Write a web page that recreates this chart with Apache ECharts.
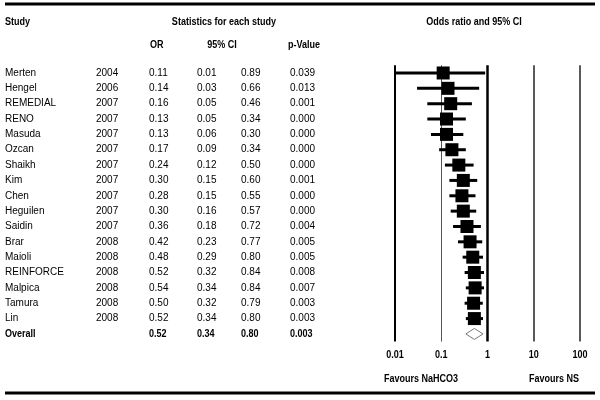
<!DOCTYPE html>
<html><head><meta charset="utf-8">
<script src="https://cdn.jsdelivr.net/npm/echarts@6/dist/echarts.min.js"></script>
<style>html,body{margin:0;padding:0;background:#fff}#c{width:600px;height:400px}</style>
</head><body><div id="c"></div>
<script>
const studies = ['Merten','Hengel','REMEDIAL','RENO','Masuda','Ozcan','Shaikh','Kim','Chen','Heguilen','Saidin','Brar','Maioli','REINFORCE','Malpica','Tamura','Lin'];
const years   = ['2004','2006','2007','2007','2007','2007','2007','2007','2007','2007','2007','2008','2008','2008','2008','2008','2008'];
const oddsRatio = [0.11,0.14,0.16,0.13,0.13,0.17,0.24,0.30,0.28,0.30,0.36,0.42,0.48,0.52,0.54,0.50,0.52];
const lowerCI   = [0.01,0.03,0.05,0.05,0.06,0.09,0.12,0.15,0.15,0.16,0.18,0.23,0.29,0.32,0.34,0.32,0.34];
const upperCI   = [0.89,0.66,0.46,0.34,0.30,0.34,0.50,0.60,0.55,0.57,0.72,0.77,0.80,0.84,0.84,0.79,0.80];
const pValues   = ['0.039','0.013','0.001','0.000','0.000','0.000','0.000','0.001','0.000','0.000','0.004','0.005','0.005','0.008','0.007','0.003','0.003'];
const overallLabel = 'Overall';
const overallOR = 0.52, overallLo = 0.34, overallHi = 0.80, overallP = '0.003';
const refLines = [0.01, 0.1, 1, 10, 100];
const tickLabels = ['0.01','0.1','1','10','100'];

const BODY = "10px 'Liberation Sans', Arial, sans-serif";
const HEAD = "bold 11px 'Liberation Sans', Arial, sans-serif";
const NARROW = 0.82;

const chart = echarts.init(document.getElementById('c'), null, {renderer:'canvas'});
const nRows = studies.length + 1;
const studyData = studies.map((s,i)=>[i, oddsRatio[i], lowerCI[i], upperCI[i]]);
const lineWidths = [2, 1, 2.5, 1.5, 1.5];
const lineColors = ['#000', '#555', '#000', '#222', '#222'];

chart.setOption({
  animation:false,
  grid:{left:395, width:185, top:65.3, height:276.3},
  xAxis:{type:'log', logBase:10, min:0.01, max:100,
    axisLine:{show:false}, axisTick:{show:false}, splitLine:{show:false},
    axisLabel:{show:false}},
  yAxis:{type:'value', min:-0.5, max:nRows-0.5, inverse:true, show:false},
  series:[
    {type:'line', z:1, data:[], silent:true,
      markLine:{silent:true, symbol:'none', label:{show:false},
        data: refLines.map((v,k)=>({xAxis:v, lineStyle:{color:lineColors[k], type:'solid', width:lineWidths[k]}}))}
    },
    {type:'custom', z:5, data:studyData,
      renderItem:(params, api)=>{
        const i = api.value(0);
        const c = api.coord([api.value(1), i]);
        const l = api.coord([api.value(2), i]);
        const h = api.coord([api.value(3), i]);
        const s = 13;
        return {type:'group', children:[
          {type:'line', shape:{x1:l[0], y1:c[1], x2:h[0], y2:c[1]}, style:{stroke:'#000', lineWidth:3}},
          {type:'rect', shape:{x:c[0]-s/2, y:c[1]-s/2, width:s, height:s}, style:{fill:'#000'}}
        ]};
      },
      encode:{x:[1,2,3], y:0}
    },
    {type:'custom', z:5, data:[[studies.length, overallOR, overallLo, overallHi]],
      renderItem:(params, api)=>{
        const i = api.value(0);
        const c = api.coord([api.value(1), i]);
        const l = api.coord([api.value(2), i]);
        const h = api.coord([api.value(3), i]);
        const hh = 5.5;
        return {type:'polygon', shape:{points:[[l[0],c[1]],[c[0],c[1]-hh],[h[0],c[1]],[c[0],c[1]+hh]]},
          style:{fill:'#fff', stroke:'#777', lineWidth:1}};
      },
      encode:{x:[1,2,3], y:0}
    }
  ]
});

const g = [];
function txt(t, x, y, font, align, sx){
  g.push({type:'text', silent:true, x:x, y:y, scaleX:sx||1,
    style:{text:t, x:0, y:0, font:font, fill:'#000', align:align||'left', verticalAlign:'middle'}});
}
g.push({type:'line', shape:{x1:5,y1:4,x2:595,y2:4}, style:{stroke:'#000', lineWidth:3}});
g.push({type:'line', shape:{x1:5,y1:393,x2:595,y2:393}, style:{stroke:'#000', lineWidth:3}});
txt('Study', 5, 22, HEAD, 'left', NARROW);
txt('Statistics for each study', 224, 22, HEAD, 'center', NARROW);
txt('Odds ratio and 95% CI', 474, 22, HEAD, 'center', NARROW);
txt('OR', 150, 45, HEAD, 'left', NARROW);
txt('95% CI', 222, 45, HEAD, 'center', NARROW);
txt('p-Value', 288, 45, HEAD, 'left', NARROW);
for (let i=0;i<studies.length;i++){
  const y = chart.convertToPixel({yAxisIndex:0}, i);
  txt(studies[i], 5, y, BODY);
  txt(years[i], 96, y, BODY);
  txt(oddsRatio[i].toFixed(2), 149, y, BODY);
  txt(lowerCI[i].toFixed(2), 197, y, BODY);
  txt(upperCI[i].toFixed(2), 241, y, BODY);
  txt(pValues[i], 290, y, BODY);
}
const yo = chart.convertToPixel({yAxisIndex:0}, studies.length);
txt(overallLabel, 5, yo, HEAD, 'left', NARROW);
txt(overallOR.toFixed(2), 149, yo, HEAD, 'left', NARROW);
txt(overallLo.toFixed(2), 197, yo, HEAD, 'left', NARROW);
txt(overallHi.toFixed(2), 241, yo, HEAD, 'left', NARROW);
txt(overallP, 290, yo, HEAD, 'left', NARROW);
refLines.forEach((v,k)=>{
  const x = chart.convertToPixel({xAxisIndex:0}, v);
  txt(tickLabels[k], x, 355, HEAD, 'center', NARROW);
});
txt('Favours NaHCO3', 421, 379, HEAD, 'center', NARROW);
txt('Favours NS', 554, 379, HEAD, 'center', NARROW);
chart.setOption({graphic:{elements:g}});
</script></body></html>
